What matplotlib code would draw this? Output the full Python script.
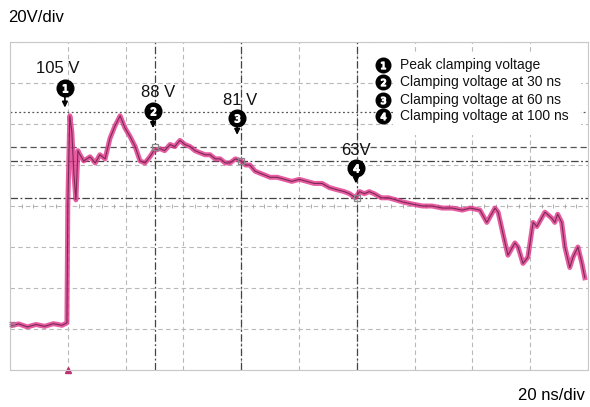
import matplotlib as mpl
mpl.use('Agg')
import matplotlib.pyplot as plt
import numpy as np

plt.rcParams['font.family'] = ['Liberation Sans', 'DejaVu Sans']

# trace: time in ns, voltage in V
t_ns = [-20, -17, -14, -11, -8, -5, -2, -0.3, 0, 0.7, 1.4, 2.1, 2.8, 3.5, 4.2, 5.5, 7.7, 9.5,
        11.1, 12.9, 14.6, 16.3, 18.1, 19.8, 21.5, 23.3, 25, 26.7, 28.4, 29.8, 31.9, 33.5,
        35.4, 37, 38.8, 40.5, 42.3, 44, 45.7, 47.5, 49.2, 51, 52.7, 54.5, 56.1, 58, 60,
        61.5, 63, 64.8, 66.5, 68.3, 70, 72.5, 75, 77.5, 80.1, 82.7, 85.3, 88, 90.5, 93,
        95.7, 97.5, 99.5, 101, 102.6, 104.3, 106, 108.5, 111, 113.5, 115.8, 119, 122.7,
        126, 129.6, 133, 136.5, 139.2, 142.6, 145, 147.8, 148.9, 151.3, 152.3, 154.7,
        155.8, 157.5, 159.2, 161, 162.3, 165.1, 167.5, 168.5, 169.5, 170.9, 172, 173.7,
        174.8, 176.5, 177.9, 178.9]
volts = [0.5, 1.5, 0, 1.2, 0.3, 1.6, 0.8, 2, 60, 103, 95, 75, 62, 86, 84, 81, 83, 80,
         84, 82, 92, 98, 103, 97, 93, 88, 81, 80, 83, 86, 87, 86,
         89, 88, 91, 89, 88, 86, 85, 84, 84, 82, 82, 80, 80, 82, 81,
         79, 79, 76, 75, 74, 73, 73, 72, 71, 72, 71, 70, 70, 68, 67,
         66, 65, 63, 66, 65, 66, 65, 63, 63, 62, 61, 60, 59,
         59, 58, 58, 57, 58, 57, 51, 58, 56, 41, 35, 41,
         39, 31, 34, 51, 49, 56, 53, 51, 55, 51, 39, 29,
         34, 39, 31, 24]

cursor_t = [0, 30, 60, 100]
cursor_v = [105, 88, 81, 63]
cursor_lbl = ['105 V', '88 V', '81 V', '63V']
legend_txt = ['Peak clamping voltage', 'Clamping voltage at 30 ns',
              'Clamping voltage at 60 ns', 'Clamping voltage at 100 ns']

fig = plt.figure(figsize=(5.9, 4.07), dpi=100)
ax = fig.add_axes([10 / 590, 37 / 407, 578 / 590, 328 / 407])
ax.set_xlim(-20, 180)
ax.set_ylim(-21, 139)
ax.set_xticks(np.arange(-20, 181, 20))
ax.set_yticks(np.arange(-21, 140, 20))
ax.tick_params(length=0, labelleft=False, labelbottom=False)
ax.grid(True, color='#b8b8b8', linestyle=(0, (4, 3)), linewidth=0.8)
for s in ax.spines.values():
    s.set_color('#c8c8c8')

# small ticks on centre line
minor_x = np.arange(-20, 180, 4)
ax.plot(minor_x, [59] * len(minor_x), '|', color='#a0a0a0', ms=3, mew=0.6)

# cursors
ax.axhline(cursor_v[0], color='#555555', linestyle=(0, (1.5, 2)), lw=0.9)
ax.axhline(cursor_v[1], color='#555555', linestyle=(0, (5, 3)), lw=0.9)
for v in cursor_v[2:]:
    ax.axhline(v, color='#444444', linestyle=(0, (6, 2, 1.5, 2)), lw=0.9)
for tt in cursor_t[1:]:
    ax.axvline(tt, color='#444444', linestyle=(0, (6, 2, 1.5, 2)), lw=0.9)

# trace
ax.plot(t_ns, volts, color='#e2338a', lw=3.6, alpha=0.8, solid_joinstyle='round')
ax.plot(t_ns, volts, color='#7a2a55', lw=0.8)

# crosshair markers at the cursor points
for tt, v in zip(cursor_t[1:], cursor_v[1:]):
    ax.plot(tt, v, marker='s', ms=5, mfc='none', mec='#888888', mew=0.9)

# numbered markers with arrows
circ_y = [116.6, 105.4, 102, 77.6]
tip_y = [107, 97, 93.7, 70]
lbl_x = [-3.4, 31.2, 59.6, 99.8]
lbl_y = [126, 114.6, 110.7, 86]
circ_x = [-1, 29.5, 58.6, 99.7]
for i in range(4):
    ax.annotate('', xy=(circ_x[i], tip_y[i]), xytext=(circ_x[i], circ_y[i] - 3),
                arrowprops=dict(arrowstyle='-|>', color='black', lw=1.2,
                                mutation_scale=8, shrinkA=0, shrinkB=0))
    ax.plot(circ_x[i], circ_y[i], 'o', color='black', ms=12)
    ax.plot(circ_x[i], circ_y[i], marker='$%d$' % (i + 1), color='white', ms=5.5)
    ax.text(lbl_x[i], lbl_y[i], cursor_lbl[i], fontsize=12, ha='center',
            va='center', color='#111111')

# legend box
fig.patches.append(mpl.patches.Rectangle((393 / 590, 1 - 135 / 407), 188 / 590, 82 / 407,
                                         transform=fig.transFigure, facecolor='white',
                                         edgecolor='none', zorder=5))
leg_y = [65, 82, 100, 116]
for i, txt in enumerate(legend_txt):
    yy = 1 - leg_y[i] / 407
    ax.plot(383 / 590, yy, 'o', color='black', ms=10.5, transform=fig.transFigure,
            clip_on=False, zorder=6)
    ax.plot(383 / 590, yy, marker='$%d$' % (i + 1), color='white', ms=5,
            transform=fig.transFigure, clip_on=False, zorder=7)
    fig.text(400 / 590, yy, txt, fontsize=10, ha='left', va='center',
             color='#111111', zorder=6)

# scope markers
ax.plot(0, -21, marker='^', color='#c03070', ms=5, clip_on=False)
ax.plot(-19.2, 1.5, marker='$\u2261$', color='#b07090', ms=5, clip_on=False, zorder=4)

fig.text(8 / 590, 1 - 18 / 407, '20V/div', fontsize=12, ha='left', va='center')
fig.text(585 / 590, 1 - 395 / 407, '20 ns/div', fontsize=12, ha='right', va='center')

plt.savefig('out.png', dpi=100)
